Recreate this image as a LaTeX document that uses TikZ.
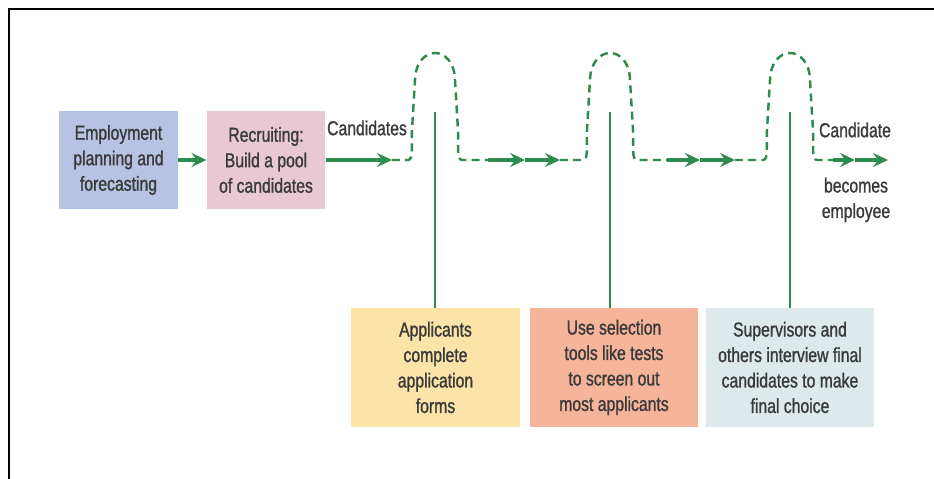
\documentclass[tikz,border=0pt]{standalone}
\usepackage{fontspec}
\setmainfont{Liberation Sans}[FakeStretch=0.78,FakeBold=1.1]
\usepackage{xcolor}
\usepackage{tikz}
\usetikzlibrary{arrows.meta,positioning,calc}
\definecolor{flowGreen}{HTML}{2E8B4E}
\definecolor{txtGray}{HTML}{3A3A3A}
\definecolor{planBlue}{HTML}{B7C3E2}
\definecolor{recPink}{HTML}{E8C8D2}
\definecolor{appYellow}{HTML}{FCE3A8}
\definecolor{selSalmon}{HTML}{F6B49A}
\definecolor{intGray}{HTML}{DDE9EA}

\begin{document}
\begin{tikzpicture}[x=0.02cm, y=-0.02cm, font=\fontsize{11.5}{14.5}\selectfont, text=txtGray,
  stage/.style={minimum width=2.37cm, minimum height=1.96cm, align=center, inner sep=2pt},
  screen/.style={minimum width=3.38cm, minimum height=2.38cm, align=center, inner sep=2pt},
  flow/.style={flowGreen, line width=1.9pt, -{Stealth[length=8.5pt,width=8pt,inset=3pt]}},
  trail/.style={flowGreen, line width=1.4pt, dash pattern=on 4.5pt off 3pt},
  stem/.style={flowGreen, line width=1.5pt}]
\useasboundingbox (0,0) rectangle (934,479);
% frame
\draw[line width=1.7pt] (9,479) -- (9,9) -- (934,9);
% first two stages
\node[stage, fill=planBlue] (plan) at (118.5,160) {Employment\\planning and\\forecasting};
\node[stage, fill=recPink]  (rec)  at (266,160)   {Recruiting:\\Build a pool\\of candidates};
\draw[flow] (plan) -- (rec);
% screening steps
\node[screen, fill=appYellow] (app) at (435.5,367.5) {Applicants\\complete\\application\\forms};
\node[screen, fill=selSalmon] (sel) at (614,367.5)   {Use selection\\tools like tests\\to screen out\\most applicants};
\node[screen, fill=intGray]   (int) at (790,367.5)   {Supervisors and\\others interview final\\candidates to make\\final choice};
% labels
\node (cand)  at (367,128) {Candidates};
\node (cand2) at (855,130) {Candidate};
\node[align=center] (emp) at (856,200) {becomes\\employee};
% points on the main line
\coordinate (a1)  at (392,160);
\coordinate (h1l) at (408,160); \coordinate (h1r) at (462,160);
\coordinate (b0)  at (488,160); \coordinate (b1) at (525,160); \coordinate (b2) at (560,160);
\coordinate (h2l) at (583,160); \coordinate (h2r) at (637,160);
\coordinate (c0)  at (667,160); \coordinate (c1) at (700,160); \coordinate (c2) at (735,160);
\coordinate (h3l) at (763,160); \coordinate (h3r) at (817,160);
\coordinate (d0)  at (833,160); \coordinate (d1) at (855,160); \coordinate (d2) at (888,160);
% main line with the three hurdles
\draw[flow] (rec.east) -- (a1);
\draw[trail] (a1) -- (h1l) .. controls +(6,0) and +(-1,14) .. (412,130) -- (415,80)
  .. controls (416,44) and (454,44) .. (455,80) -- (458,130) .. controls +(1,14) and +(-6,0) .. (h1r) -- (b0);
\draw[flow] (b0) -- (b1); \draw[flow] (b1) -- (b2);
\draw[trail] (b2) -- (h2l) .. controls +(6,0) and +(-1,14) .. (587,130) -- (590,80)
  .. controls (591,44) and (629,44) .. (630,80) -- (633,130) .. controls +(1,14) and +(-6,0) .. (h2r) -- (c0);
\draw[flow] (c0) -- (c1); \draw[flow] (c1) -- (c2);
\draw[trail] (c2) -- (h3l) .. controls +(6,0) and +(-1,14) .. (767,130) -- (770,80)
  .. controls (771,44) and (809,44) .. (810,80) -- (813,130) .. controls +(1,14) and +(-6,0) .. (h3r) -- (d0);
\draw[flow] (d0) -- (d1); \draw[flow] (d1) -- (d2);
% stems down to the steps
\coordinate (v1) at (435,112); \coordinate (v2) at (610,112); \coordinate (v3) at (790,112);
\draw[stem] (v1) -- (v1 |- app.north);
\draw[stem] (v2) -- (v2 |- sel.north);
\draw[stem] (v3) -- (v3 |- int.north);
\end{tikzpicture}
\end{document}
